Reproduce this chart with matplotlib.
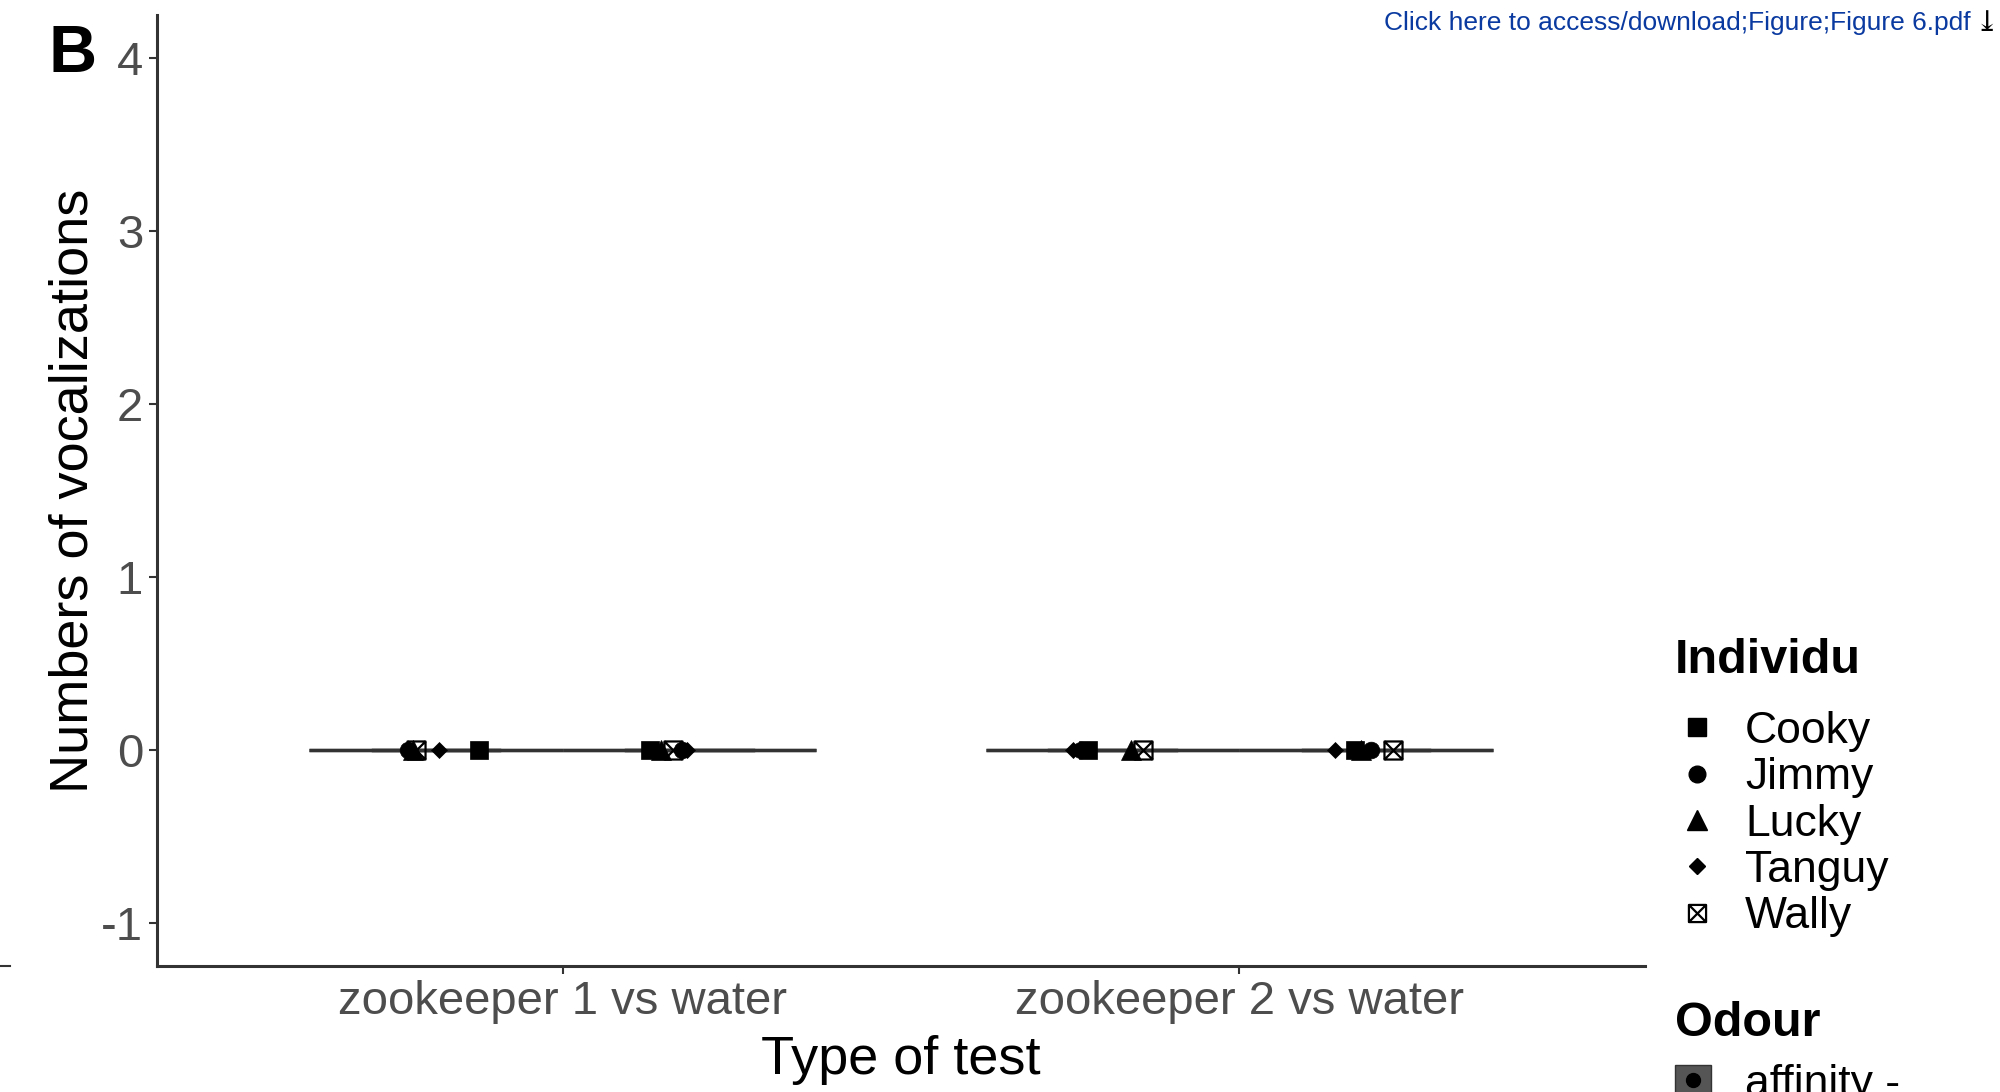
import matplotlib
matplotlib.use('Agg')
from matplotlib import pyplot as plt
from matplotlib.lines import Line2D
from matplotlib.patches import Patch
from matplotlib.path import Path
from matplotlib.legend_handler import HandlerTuple

plt.rcParams['font.family'] = ['Liberation Sans', 'DejaVu Sans']
plt.rcParams['axes.unicode_minus'] = False

# datos (todas las vocalizaciones son 0)
tests = ['zookeeper 1 vs water', 'zookeeper 2 vs water']
individus = ['Cooky', 'Jimmy', 'Lucky', 'Tanguy', 'Wally']
odours = ['affinity -', 'water']

vocal_z1_affinity = [0, 0, 0, 0, 0]
vocal_z1_water = [0, 0, 0, 0, 0]
vocal_z2_affinity = [0, 0, 0, 0, 0]
vocal_z2_water = [0, 0, 0, 0, 0]

# jitter horizontal de cada punto (Cooky, Jimmy, Lucky, Tanguy, Wally)
jitter_z1_affinity = [0.063, -0.042, -0.034, 0.004, -0.029]
jitter_z1_water = [-0.059, -0.012, -0.043, -0.004, -0.025]
jitter_z2_affinity = [-0.036, -0.047, 0.027, -0.058, 0.046]
jitter_z2_water = [-0.017, 0.008, -0.008, -0.046, 0.040]

# formas de ggplot: 15, 16, 17, 18, 7
caja_x = Path([(-0.5, -0.5), (0.5, -0.5), (0.5, 0.5), (-0.5, 0.5), (-0.5, -0.5),
               (-0.5, -0.5), (0.5, 0.5), (-0.5, 0.5), (0.5, -0.5)],
              [Path.MOVETO, Path.LINETO, Path.LINETO, Path.LINETO, Path.CLOSEPOLY,
               Path.MOVETO, Path.LINETO, Path.MOVETO, Path.LINETO])
formas = {'Cooky': ('s', 13), 'Jimmy': ('o', 12), 'Lucky': ('^', 14),
          'Tanguy': ('D', 7.8), 'Wally': (caja_x, 13)}

dodge = 0.1875
gris = '#4d4d4d'

fig = plt.figure(figsize=(20, 10.92), dpi=100)
ax = fig.add_axes([0.0785, 0.1154, 0.744, 0.8709])

grupos = [
    (1 - dodge, vocal_z1_affinity, jitter_z1_affinity),
    (1 + dodge, vocal_z1_water, jitter_z1_water),
    (2 - dodge, vocal_z2_affinity, jitter_z2_affinity),
    (2 + dodge, vocal_z2_water, jitter_z2_water),
]

lineas = dict(color='#333333', linewidth=2.4)
ax.boxplot([g[1] for g in grupos], positions=[g[0] for g in grupos],
           widths=0.375, patch_artist=True, showfliers=False, manage_ticks=False,
           boxprops=dict(facecolor='white', edgecolor='#333333', linewidth=2.4),
           medianprops=lineas, whiskerprops=lineas, capprops=lineas)

for pos, valores, jit in grupos:
    for i, nombre in enumerate(individus):
        marca, tam = formas[nombre]
        if nombre == 'Wally':
            ax.plot(pos + jit[i], valores[i], marker=marca, markersize=tam,
                    markerfacecolor='none', markeredgecolor='black',
                    markeredgewidth=1.6, linestyle='none', zorder=3)
        else:
            ax.plot(pos + jit[i], valores[i], marker=marca, markersize=tam,
                    color='black', markeredgewidth=0.5, linestyle='none', zorder=3)

ax.set_xlim(0.4, 2.6)
ax.set_ylim(-1.25, 4.25)
ax.set_xticks([1, 2])
ax.set_xticklabels(tests)
ax.set_yticks([-1, 0, 1, 2, 3, 4])
ax.tick_params(axis='both', labelsize=34, labelcolor=gris, color='#333333',
               length=6, width=1.5, pad=4)
for lado in ['top', 'right']:
    ax.spines[lado].set_visible(False)
for lado in ['left', 'bottom']:
    ax.spines[lado].set_linewidth(2.2)
    ax.spines[lado].set_color('#333333')

ax.set_xlabel('Type of test', fontsize=39, labelpad=8)
ax.set_ylabel('Numbers of vocalizations', fontsize=39, labelpad=2)

# leyenda de individuos
manijas = []
for nombre in individus:
    marca, tam = formas[nombre]
    if nombre == 'Wally':
        manijas.append(Line2D([], [], marker=marca, markersize=tam * 0.95,
                              markerfacecolor='none', markeredgecolor='black',
                              markeredgewidth=1.6, linestyle='none'))
    else:
        manijas.append(Line2D([], [], marker=marca, markersize=tam,
                              color='black', linestyle='none'))
fig.text(0.8375, 0.3947, 'Individu', fontsize=35, fontweight='bold',
         ha='left', va='center')
leg1 = fig.legend(manijas, individus, loc='upper left',
                  bbox_to_anchor=(0.8375, 0.349), frameon=False, fontsize=32,
                  handlelength=1.0, handletextpad=0.58,
                  labelspacing=0.12, borderpad=0, borderaxespad=0)

# leyenda de olores (cortada abajo como en el original)
caja_odor = (Patch(facecolor='#555555', edgecolor='#333333'),
             Line2D([], [], marker='o', markersize=10, color='black', linestyle='none'))
fig.text(0.8375, 0.063, 'Odour', fontsize=35, fontweight='bold',
         ha='left', va='center')
leg2 = fig.legend([caja_odor, caja_odor], odours, loc='upper left',
                  bbox_to_anchor=(0.8375, 0.0256), frameon=False, fontsize=32,
                  handlelength=0.8, handletextpad=0.78,
                  borderpad=0, borderaxespad=0,
                  handler_map={tuple: HandlerTuple(ndivide=1, pad=0)})

fig.text(0.0365, 0.95, 'B', fontsize=48, fontweight='bold', ha='center', va='center')
fig.text(0.9855, 0.979, 'Click here to access/download;Figure;Figure 6.pdf',
         fontsize=19, color='#0a3aa0', ha='right', va='center')
fig.text(0.9995, 0.979, '⤓', fontsize=21, color='black', ha='right', va='center',
         family=['DejaVu Sans', 'Noto Sans', 'DejaVu Sans Mono', 'DejaVu Serif',
                 'Noto Sans CJK JP'])

# restos de recorte en los bordes
fig.add_artist(Line2D([0, 0.005], [0.1154, 0.1154], color='#333333', linewidth=1.5))

fig.savefig('out.png', dpi=100)
